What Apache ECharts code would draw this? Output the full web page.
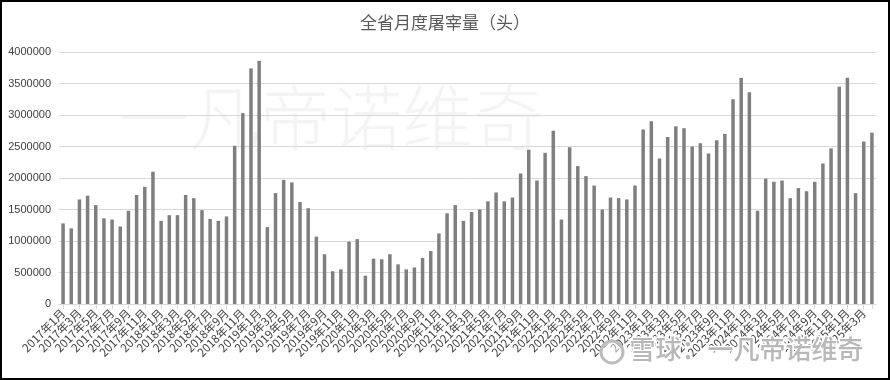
<!DOCTYPE html>
<html>
<head>
<meta charset="utf-8">
<script src="https://cdn.jsdelivr.net/npm/echarts@6/dist/echarts.min.js"></script>
<style>
html,body{margin:0;padding:0;background:#fff;}
#main{width:890px;height:380px;}
</style>
</head>
<body>
<div id="main"></div>
<script>
var titleText = '全省月度屠宰量（头）';
var years = [2017, 2018, 2019, 2020, 2021, 2022, 2023, 2024, 2025];
var v2017 = [1280000,1200000,1660000,1720000,1570000,1360000,1340000,1230000,1480000,1730000,1860000,2100000];
var v2018 = [1320000,1410000,1410000,1730000,1680000,1490000,1350000,1320000,1390000,2510000,3030000,3740000];
var v2019 = [3860000,1220000,1760000,1970000,1930000,1620000,1520000,1070000,790000,520000,550000,990000];
var v2020 = [1030000,450000,720000,710000,790000,630000,550000,580000,730000,840000,1120000,1440000];
var v2021 = [1570000,1320000,1460000,1500000,1630000,1770000,1630000,1690000,2070000,2450000,1960000,2400000];
var v2022 = [2750000,1340000,2490000,2190000,2030000,1880000,1500000,1690000,1680000,1660000,1880000,2770000];
var v2023 = [2900000,2310000,2650000,2820000,2790000,2500000,2550000,2390000,2600000,2700000,3250000,3590000];
var v2024 = [3360000,1480000,1990000,1940000,1960000,1680000,1840000,1790000,1940000,2230000,2470000,3450000];
var v2025 = [3590000,1760000,2580000,2720000];
var yearValues = [v2017, v2018, v2019, v2020, v2021, v2022, v2023, v2024, v2025];

var categories = [];
var values = [];
for (var i = 0; i < years.length; i++) {
  for (var m = 0; m < yearValues[i].length; m++) {
    categories.push(years[i] + '年' + (m + 1) + '月');
    values.push(yearValues[i][m]);
  }
}

var chart = echarts.init(document.getElementById('main'), null, {renderer: 'canvas'});
chart.setOption({
  animation: false,
  backgroundColor: '#fff',
  title: {
    text: titleText,
    left: 'center',
    top: 9,
    textStyle: {
      fontFamily: 'Noto Sans CJK SC',
      fontSize: 17,
      fontWeight: 'normal',
      color: '#595959'
    }
  },
  graphic: [
    {
      type: 'text',
      z: -10,
      left: 118,
      top: 82,
      style: {
        text: '一凡帝诺维奇',
        font: '200 71px "Noto Sans CJK SC"',
        fill: '#f4f4f4'
      }
    },
    {
      type: 'circle',
      z: 100,
      shape: {cx: 612, cy: 352, r: 11},
      style: {fill: 'rgba(255,255,255,0.5)', stroke: '#bcbcbc', lineWidth: 3}
    },
    {
      type: 'text',
      z: 100,
      left: 628,
      top: 335,
      style: {
        text: '雪球：一凡帝诺维奇',
        font: '500 26px "Noto Sans CJK SC"',
        fill: '#b8b8b8',
        stroke: '#ffffff',
        lineWidth: 3
      }
    },
    {
      type: 'rect',
      z: 100,
      shape: {x: 1, y: 1, width: 888, height: 378},
      style: {fill: 'none', stroke: '#000', lineWidth: 2}
    }
  ],
  grid: {
    left: 59,
    right: 14,
    top: 52,
    bottom: 76,
    containLabel: false
  },
  xAxis: {
    type: 'category',
    data: categories,
    boundaryGap: true,
    axisLine: {lineStyle: {color: '#d9d9d9', width: 1}},
    axisTick: {show: true, interval: 1, alignWithLabel: true, length: 5, lineStyle: {color: '#d9d9d9'}},
    axisLabel: {
      interval: 0,
      rotate: 45,
      margin: 7,
      showMinLabel: true,
      showMaxLabel: true,
      hideOverlap: false,
      fontFamily: 'Noto Sans CJK SC',
      fontSize: 11.5,
      color: '#404040',
      formatter: function (value, index) { return index % 2 === 0 ? value : ''; }
    }
  },
  yAxis: {
    type: 'value',
    min: 0,
    max: 4000000,
    interval: 500000,
    axisLine: {show: false},
    axisTick: {show: false},
    splitLine: {lineStyle: {color: '#d9d9d9', width: 1}},
    axisLabel: {
      margin: 8,
      fontFamily: 'Liberation Sans',
      fontSize: 11,
      color: '#404040',
      formatter: function (v) { return String(v); }
    }
  },
  series: [{
    type: 'bar',
    data: values,
    barWidth: 3.5,
    itemStyle: {color: '#7f7f7f'}
  }]
});
</script>
</body>
</html>
